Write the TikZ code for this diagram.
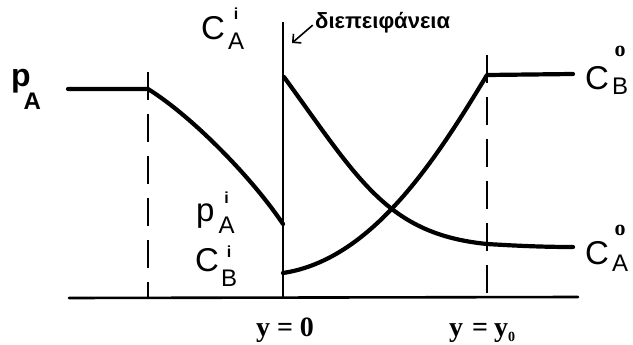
\documentclass[tikz,border=0pt]{standalone}
\usepackage{fontspec}
\setmainfont{Liberation Sans}
\newfontfamily\timesfont{Liberation Serif}
\usetikzlibrary{positioning, arrows.meta, calc}

% sizes of the letters in the labels
\newcommand{\mainsz}{\fontsize{33}{33}\selectfont}
\newcommand{\subsz}{\fontsize{24}{24}\selectfont}
\newcommand{\supsz}{\fontsize{16}{16}\selectfont\bfseries}
% subscript #1 with a superscript #2 centred over it; #3 drop, #4 raise
\newcommand{\idx}[4]{\rlap{\raisebox{#4}{\makebox[16pt]{\supsz #2}}}\raisebox{-#3}{\subsz #1}}
\newcommand{\sero}{{\timesfont\bfseries\fontsize{22}{22}\selectfont o}}

\tikzset{
  curve/.style={line width=4.2pt, line cap=round, line join=round},
  axisline/.style={line width=2.6pt, line cap=round},
  guide/.style={line width=1.6pt, dash pattern=on 28pt off 14pt},
  wall/.style={line width=1.8pt},
  pointer/.style={line width=1.6pt, -{Straight Barb[length=6pt, width=12pt]}},
  lbl/.style={inner sep=0pt, anchor=base west},
}

\begin{document}
\begin{tikzpicture}[x=1pt, y=-1pt]
  \useasboundingbox (0,0) rectangle (633,345);

  % points of the profiles
  \coordinate (pA0) at (68,89);
  \coordinate (pA1) at (148,89);
  \coordinate (pAi) at (283,224);
  \coordinate (CAi0) at (284,77);
  \coordinate (CA1) at (487,244);
  \coordinate (CA2) at (573,247);
  \coordinate (CBi0) at (283,273);
  \coordinate (CB1) at (487,75);
  \coordinate (CB2) at (573,74);
  \coordinate (ax0) at (69,298);
  \coordinate (ax1) at (578,297);
  \coordinate (g1top) at (148,72);
  \coordinate (g1bot) at (148,298);
  \coordinate (g2top) at (487,55);
  \coordinate (g2bot) at (487,297);
  \coordinate (walltop) at (283,22);
  \coordinate (wallbot) at (283,298);
  \coordinate (tip) at (292,43);

  % axis, film edges and interface
  \draw[axisline] (ax0) -- (ax1);
  \draw[guide] (g1top) -- (g1bot);
  \draw[guide] (g2top) -- (g2bot);
  \draw[wall] (walltop) -- (wallbot);

  % profiles
  \draw[curve] (pA0) -- (pA1) .. controls (190,115) and (250,175) .. (pAi);
  \draw[curve] (CAi0) .. controls (359,180) and (387,234) .. (CA1)
    .. controls (520,246) and (545,247) .. (CA2);
  \draw[curve] (CBi0) .. controls (373,259.5) and (437,157.5) .. (CB1) -- (CB2);

  % labels
  \node[lbl] (pA) at (11,87) {\bfseries\fontsize{32}{32}\selectfont p\kern-7pt\raisebox{-23pt}{\subsz A}};
  \node[lbl] (CAitop) at (201,40) {\mainsz C\kern3pt\idx{A}{i}{10pt}{20pt}};
  \node[lbl] (pAilab) at (196,222) {\mainsz p\kern4pt\idx{A}{i}{12pt}{18pt}};
  \node[lbl] (CBilab) at (195,271) {\mainsz C\kern2pt\idx{B}{i}{15pt}{14pt}};
  \node[lbl] (CBo) at (585,90) {\mainsz C\kern3pt\idx{B}{\sero}{5pt}{33pt}};
  \node[lbl] (CAo) at (585,265) {\mainsz C\kern3pt\idx{A}{\sero}{6pt}{30pt}};
  \node[lbl] (note) at (315,29) {\bfseries\fontsize{22}{22}\selectfont διεπειφάνεια};
  \node[inner sep=0pt, anchor=base] (y0) at (285,336) {\timesfont\bfseries\fontsize{28}{28}\selectfont y = 0};
  \node[inner sep=0pt, anchor=base west] (yy0) at (449,336) {\timesfont\bfseries\fontsize{28}{28}\selectfont y\hspace{9pt}=\hspace{6pt}y\raisebox{-5pt}{\fontsize{14}{14}\selectfont 0}};

  \draw[pointer, shorten <=3pt] (note.west) -- (tip);
\end{tikzpicture}
\end{document}
